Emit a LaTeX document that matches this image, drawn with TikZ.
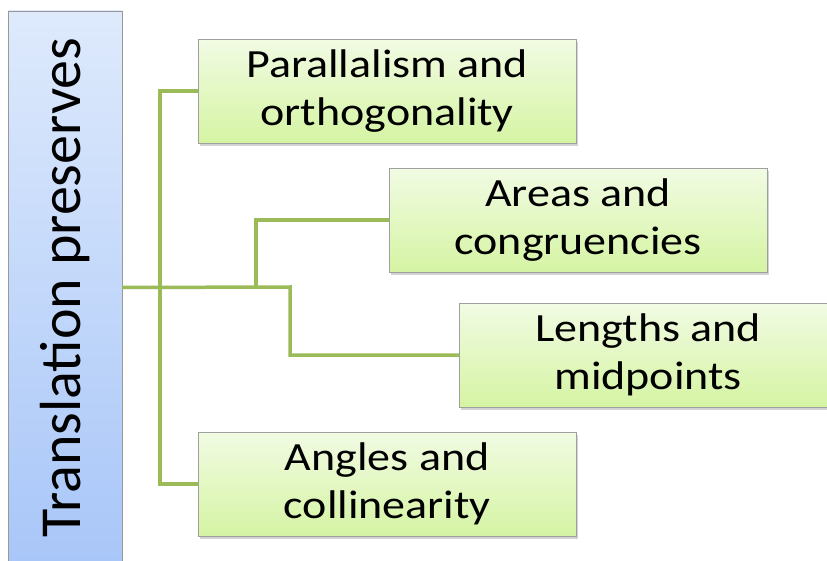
\documentclass[tikz,border=0pt]{standalone}
\usepackage{fontspec}
\setmainfont{Carlito}
\newfontfamily\topicfont[FakeStretch=1.15]{Carlito}
\usepackage{xcolor}
\usetikzlibrary{positioning, shadows}

\definecolor{branchgreen}{HTML}{9BBB59}
\definecolor{topictop}{HTML}{F1FBE3}
\definecolor{topicbottom}{HTML}{D5F4A3}
\definecolor{titletop}{HTML}{DEEAFC}
\definecolor{titlebottom}{HTML}{A8C6F8}

\begin{document}
\begin{tikzpicture}[
    x=1pt, y=-1pt,
    title/.style={rectangle, draw=gray!80, rotate=90, top color=titletop, bottom color=titlebottom, minimum width=553pt, minimum height=114pt, inner sep=0pt, font=\fontsize{58}{60}\selectfont},
    topic/.style={rectangle, draw=gray!75, top color=topictop, bottom color=topicbottom, minimum width=378pt, minimum height=104pt, align=center, anchor=north west, font=\fontsize{40}{48}\topicfont, drop shadow={shadow xshift=2pt, shadow yshift=-3pt, opacity=0.35}},
    branch/.style={draw=branchgreen, line width=3.5pt}
]
\useasboundingbox (0,0) rectangle (827,561);

% Nodes
\node[title] (trans) at (65,287.5) {Translation preserves};
\node[topic] (para) at (198,39) {Parallalism and\\orthogonality};
\node[topic] (area) at (389,168) {Areas and\\congruencies};
\node[topic] (len) at (459,303) {Lengths and\\midpoints};
\node[topic] (ang) at (198,432) {Angles and\\collinearity};

% Branch points
\coordinate (trunk) at (160,287);
\coordinate (fork) at (256,287);
\coordinate (split) at (290,287);

% Connectors
\draw[branch] (trans.south) -- (split) |- (len.west);
\draw[branch] (para.west) -| (trunk) |- (ang.west);
\draw[branch] (fork) |- (area.west);

\end{tikzpicture}
\end{document}
